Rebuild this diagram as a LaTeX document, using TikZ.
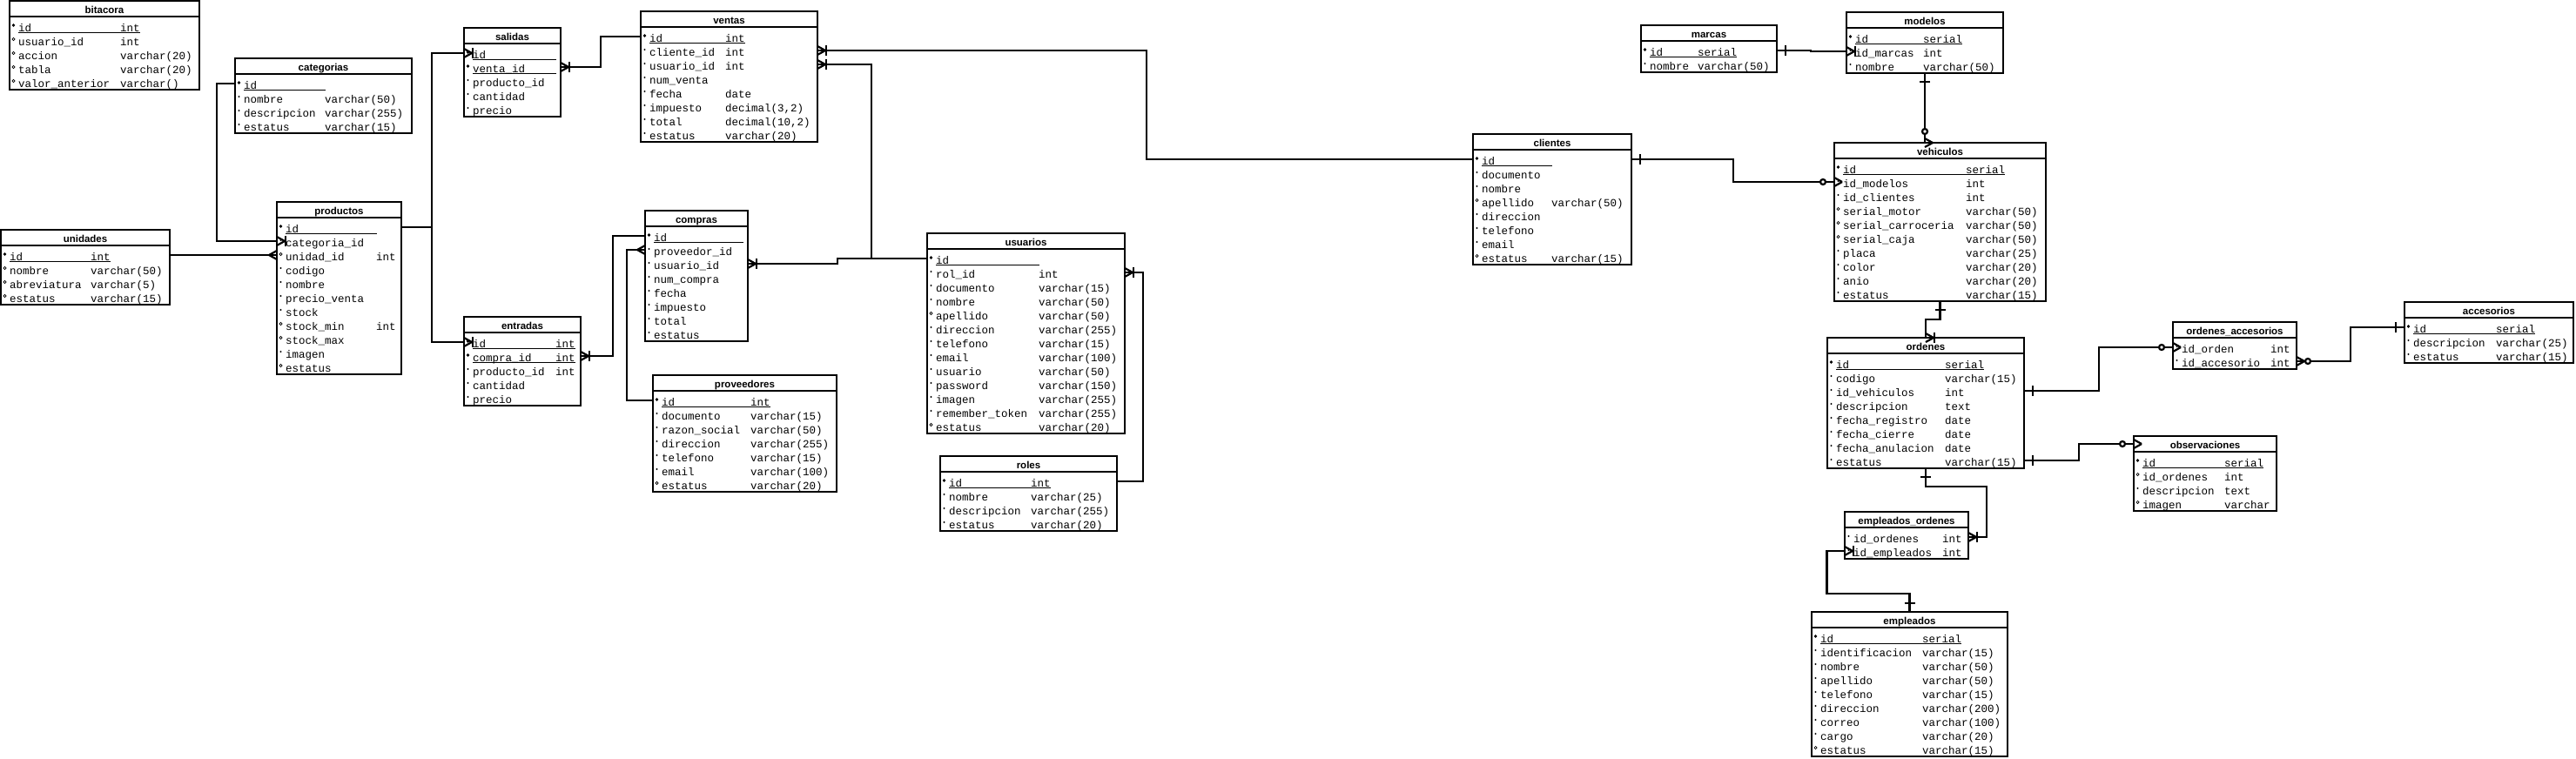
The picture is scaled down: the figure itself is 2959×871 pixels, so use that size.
\documentclass[tikz,border=0pt]{standalone}
\usepackage{fontspec}
\setmonofont{Liberation Mono}
\newfontfamily\titulofuente{Liberation Sans}
\usetikzlibrary{calc}

\tikzset{
  caja/.style={draw, rectangle, line width=2.4pt, inner sep=0pt, outer sep=0pt, anchor=north west},
  linea/.style={line width=2.4pt},
  rel/.style={line width=2.2pt},
  subraya/.style={line width=1pt},
  campo/.style={font=\ttfamily\fontsize{12.5}{14}\selectfont, inner sep=0pt, anchor=base west},
  titulo/.style={font=\titulofuente\bfseries\fontsize{11.5}{13}\selectfont, inner sep=0pt, anchor=base},
  muchos/.pic={\draw[rel] (9,0) -- (0,-5) (9,0) -- (0,5);},
  uno/.pic={\draw[rel] (10,-6) -- (10,6);},
  unomuchos/.pic={\pic {muchos}; \pic {uno};},
  ceromuchos/.pic={\pic {muchos}; \draw[rel, fill=white] (13,0) circle[radius=3pt];}
}

% tabla: (nombre)(izq:arriba:der:columna tipo){titulo}{clase/campo/tipo,...}
\def\tabla(#1)(#2:#3:#4:#5)#6#7{%
  \foreach \clase/\campo/\tipo [count=\i] in {#7}{%
    \pgfmathsetmacro{\yb}{#3+18+16*\i+1}%
    \pgfmathsetmacro{\yc}{#3+18+16*\i-5}%
    \node[campo] (#1-n\i) at (#2+10,\yb) {\campo};
    \node[campo] (#1-t\i) at (#5,\yb) {\tipo};
    \coordinate (#1-w\i) at (#2,\yc);
    \coordinate (#1-e\i) at (#4,\yc);
    \if p\clase \fill (#2+4.5,\yc-1) circle[radius=1.8pt];
      \draw[subraya] ($(#1-n\i.base west)+(0,1.5)$) -- ($(#1-t\i.base east)+(0,1.5)$); \fi
    \if r\clase \fill (#2+4.5,\yc-1) circle[radius=1.1pt]; \fi
    \if o\clase \draw[line width=0.6pt] (#2+4.5,\yc-1) circle[radius=1.6pt]; \fi
    \xdef\nfilas{\i}%
  }
  \node[caja, minimum width=#4-#2, minimum height=22+16*\nfilas] (#1) at (#2,#3) {};
  \draw[linea] (#2,#3+18) -- (#4,#3+18);
  \node[titulo] (#1-titulo) at ({(#2+#4)/2},#3+14) {#6};
  \coordinate (#1-w0) at (#2,#3+9);
}

\begin{document}
\begin{tikzpicture}[x=1pt,y=-1pt]
			%%%%% TABLAS %%%%%
			
			\fill[white] (0,0) rectangle (2959,871);
			\useasboundingbox (0,0) rectangle (2959,871);
			
			\tabla(bitacora)(11:1:229:138){bitacora}{p/id/int, o/usuario\_id/int, o/accion/varchar(20), o/tabla/varchar(20), o/valor\_anterior/varchar()}
			\tabla(categorias)(270:67:473:373){categorias}{p/id/\relax, r/nombre/varchar(50), r/descripcion/varchar(255), r/estatus/varchar(15)}
			\tabla(unidades)(1:264:195:104){unidades}{p/id/int, o/nombre/varchar(50), o/abreviatura/varchar(5), o/estatus/varchar(15)}
			\tabla(productos)(318:232:461:432){productos}{p/id/\relax, r/categoria\_id/\relax, o/unidad\_id/int, r/codigo/\relax, r/nombre/\relax, r/precio\_venta/\relax, r/stock/\relax, o/stock\_min/int, o/stock\_max/\relax, r/imagen/\relax, o/estatus/\relax}
			
			\tabla(salidas)(533:32:644:638){salidas}{p/id/\relax, p/venta\_id/\relax, r/producto\_id/\relax, r/cantidad/\relax, r/precio/\relax}
			\tabla(ventas)(736:13:939:833){ventas}{p/id/int, r/cliente\_id/int, r/usuario\_id/int, r/num\_venta/\relax, r/fecha/date, r/impuesto/{decimal(3,2)}, r/total/{decimal(10,2)}, r/estatus/varchar(20)}
			\tabla(entradas)(533:364:667:638){entradas}{p/id/int, p/compra\_id/int, r/producto\_id/int, r/cantidad/\relax, r/precio/\relax}
			\tabla(compras)(741:242:859:853){compras}{p/id/\relax, r/proveedor\_id/\relax, r/usuario\_id/\relax, r/num\_compra/\relax, r/fecha/\relax, r/impuesto/\relax, r/total/\relax, r/estatus/\relax}
			\tabla(proveedores)(750:431:961:862){proveedores}{p/id/int, r/documento/varchar(15), r/razon\_social/varchar(50), r/direccion/varchar(255), r/telefono/varchar(15), r/email/varchar(100), o/estatus/varchar(20)}
			
			\tabla(usuarios)(1065:268:1292:1193){usuarios}{p/id/\relax, r/rol\_id/int, r/documento/varchar(15), r/nombre/varchar(50), o/apellido/varchar(50), r/direccion/varchar(255), r/telefono/varchar(15), r/email/varchar(100), r/usuario/varchar(50), r/password/varchar(150), r/imagen/varchar(255), r/remember\_token/varchar(255), o/estatus/varchar(20)}
			\tabla(roles)(1080:524:1283:1184){roles}{p/id/int, r/nombre/varchar(25), r/descripcion/varchar(255), r/estatus/varchar(20)}
			
			\tabla(clientes)(1692:154:1874:1782){clientes}{p/id/\relax, r/documento/\relax, r/nombre/\relax, o/apellido/varchar(50), r/direccion/\relax, r/telefono/\relax, r/email/\relax, o/estatus/varchar(15)}
			\tabla(marcas)(1885:29:2041:1950){marcas}{p/id/serial, r/nombre/varchar(50)}
			\tabla(modelos)(2121:14:2301:2209){modelos}{p/id/serial, r/id\_marcas/int, r/nombre/varchar(50)}
			\tabla(vehiculos)(2107:164:2350:2258){vehiculos}{p/id/serial, r/id\_modelos/int, r/id\_clientes/int, o/serial\_motor/varchar(50), o/serial\_carroceria/varchar(50), o/serial\_caja/varchar(50), r/placa/varchar(25), r/color/varchar(20), r/anio/varchar(20), r/estatus/varchar(15)}
			
			\tabla(ordenes)(2099:388:2325:2234){ordenes}{p/id/serial, r/codigo/varchar(15), r/id\_vehiculos/int, r/descripcion/text, r/fecha\_registro/date, r/fecha\_cierre/date, r/fecha\_anulacion/date, r/estatus/varchar(15)}
			\tabla(ordacc)(2496:370:2638:2608){ordenes\_accesorios}{r/id\_orden/int, r/id\_accesorio/int}
			\tabla(accesorios)(2762:347:2956:2867){accesorios}{p/id/serial, r/descripcion/varchar(25), r/estatus/varchar(15)}
			\tabla(observaciones)(2451:501:2615:2555){observaciones}{p/id/serial, o/id\_ordenes/int, r/descripcion/text, o/imagen/varchar}
			\tabla(empord)(2119:588:2261:2231){empleados\_ordenes}{r/id\_ordenes/int, r/id\_empleados/int}
			\tabla(empleados)(2081:703:2306:2208){empleados}{p/id/serial, r/identificacion/varchar(15), r/nombre/varchar(50), r/apellido/varchar(50), r/telefono/varchar(15), r/direccion/varchar(200), r/correo/varchar(100), r/cargo/varchar(20), o/estatus/varchar(15)}
			
			%%%%% RELACIONES %%%%%
			
			\draw[rel] (categorias-w1) -- ++(-21,0) |- (productos-w2);
			\pic[rotate=180] at (productos-w2) {unomuchos};
			
			\draw[rel] (unidades-e1) -- (productos-w3);
			\pic[rotate=180] at (productos-w3) {muchos};
			
			\coordinate (prodsal) at ($(productos-e1)+(35,0)$);
			\draw[rel] (productos-e1) -- (prodsal);
			\draw[rel] (salidas-w1) -| (prodsal) |- (entradas-w1);
			\pic[rotate=180] at (salidas-w1) {unomuchos};
			\pic[rotate=180] at (entradas-w1) {unomuchos};
			
			\draw[rel] (salidas-e2) -- ++(46,0) |- (ventas-w1);
			\pic at (salidas-e2) {unomuchos};
			
			\draw[rel] (ventas-e2) -- ++(378,0) |- (clientes-w1);
			\pic at (ventas-e2) {unomuchos};
			
			\draw[rel] (ventas-e3) -- ++(62,0) |- (usuarios-w1);
			\pic at (ventas-e3) {unomuchos};
			
			\draw[rel] (compras-e3) -- ++(103,0) |- (usuarios-w1);
			\pic at (compras-e3) {unomuchos};
			
			\draw[rel] (entradas-e2) -- ++(37,0) |- (compras-w1);
			\pic at (entradas-e2) {unomuchos};
			
			\draw[rel] (proveedores-w1) -- ++(-30,0) |- (compras-w2);
			\pic[rotate=180] at (compras-w2) {muchos};
			
			\draw[rel] (roles-e1) -- ++(30,0) |- (usuarios-e2);
			\pic at (usuarios-e2) {unomuchos};
			
			\draw[rel] (marcas-e1) -- ++(39,0) |- (modelos-w2);
			\pic at (marcas-e1) {uno};
			\pic[rotate=180] at (modelos-w2) {unomuchos};
			
			\draw[rel] (modelos.south) -- (modelos.south |- vehiculos.north);
			\pic[rotate=-90] at (modelos.south) {uno};
			\pic[rotate=90] at (modelos.south |- vehiculos.north) {ceromuchos};
			
			\draw[rel] (clientes-e1) -- ++(117,0) |- (vehiculos-w2);
			\pic at (clientes-e1) {uno};
			\pic[rotate=180] at (vehiculos-w2) {ceromuchos};
			
			\draw[rel] (vehiculos.south) -- ++(0,21) -| (ordenes.north);
			\pic[rotate=-90] at (vehiculos.south) {uno};
			\pic[rotate=90] at (ordenes.north) {unomuchos};
			
			\draw[rel] (ordenes-e3) -- ++(86,0) |- (ordacc-w1);
			\pic at (ordenes-e3) {uno};
			\pic[rotate=180] at (ordacc-w1) {ceromuchos};
			
			\draw[rel] (accesorios-w1) -- ++(-62,0) |- (ordacc-e2);
			\pic[rotate=180] at (accesorios-w1) {uno};
			\pic at (ordacc-e2) {ceromuchos};
			
			\draw[rel] (ordenes-e8) -- ++(63,0) |- (observaciones-w0);
			\pic at (ordenes-e8) {uno};
			\pic[rotate=180] at (observaciones-w0) {ceromuchos};
			
			\draw[rel] (ordenes.south) -- ++(0,21) -- ++(70,0) |- (empord-e1);
			\pic[rotate=-90] at (ordenes.south) {uno};
			\pic at (empord-e1) {unomuchos};
			
			\draw[rel] (empleados.north) -- ++(0,-21) -- ++(-95,0) |- (empord-w2);
			\pic[rotate=90] at (empleados.north) {uno};
			\pic[rotate=180] at (empord-w2) {unomuchos};
			
			%%%%% FIN %%%%%
\end{tikzpicture}
\end{document}
